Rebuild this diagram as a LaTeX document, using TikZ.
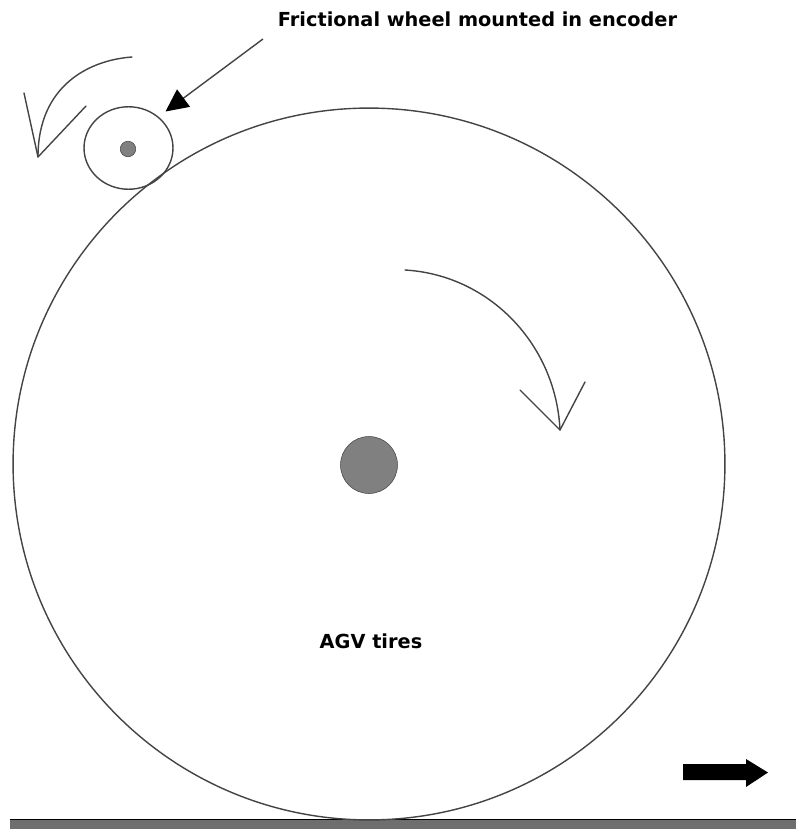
\documentclass[tikz,border=0pt]{standalone}
\usepackage{fontspec}
\setmainfont{DejaVu Sans}
\usetikzlibrary{arrows.meta,shapes.geometric}
\definecolor{ink}{HTML}{444444}
\definecolor{hub}{HTML}{808080}
\definecolor{road}{HTML}{6E6E6E}
\tikzset{
  rim/.style={draw=ink,line width=0.8pt,inner sep=0pt},
  hubdot/.style={circle,fill=hub,draw=ink,line width=0.3pt,inner sep=0pt},
  label/.style={font=\bfseries\fontsize{11}{13}\selectfont,text=black,inner sep=0pt},
  sketch/.style={draw=ink,line width=0.8pt,line cap=round,line join=round}
}
\begin{document}
\begin{tikzpicture}[x=0.02cm,y=-0.02cm,>=Stealth]
  \useasboundingbox (0,0) rectangle (796,829);
  % road and drive direction
  \fill[road] (10,819) rectangle (796,829);
  \draw[black,line width=0.4pt] (10,819)--(796,819);
  \fill[black] (683,764)--(746,764)--(746,759)--(768,772.5)--(746,787)--(746,780)--(683,780)--cycle;
  % tire
  \node[rim,circle,minimum size=14.24cm] (tire) at (369,464) {};
  \node[hubdot,minimum size=1.14cm] (tirehub) at (369,465) {};
  \node[label] (tirelabel) at (371,641) {AGV tires};
  % encoder wheel
  \node[rim,ellipse,minimum width=1.78cm,minimum height=1.65cm] (wheel) at (128.5,148) {};
  \node[hubdot,minimum size=0.31cm] (wheelhub) at (128,149) {};
  \node[label] (wheellabel) at (477.5,19) {Frictional wheel mounted in encoder};
  % leader to the wheel
  \coordinate (leadstart) at (263,39);
  \coordinate (leadtip) at (165.5,111.5);
  \draw[draw=ink,line width=0.8pt,-{Triangle[length=0.45cm,width=0.43cm,fill=black,color=black]}] (leadstart)--(leadtip);
  % rotation of the wheel
  \draw[sketch] (132,57) .. controls (90,60) and (38,85) .. (38,157);
  \draw[sketch] (24,93)--(38,157)--(86,106);
  % rotation of the tire
  \draw[sketch] (405,270) .. controls (490,275) and (556,345) .. (560,430);
  \draw[sketch] (520,390)--(560,430)--(585,382);
\end{tikzpicture}
\end{document}
